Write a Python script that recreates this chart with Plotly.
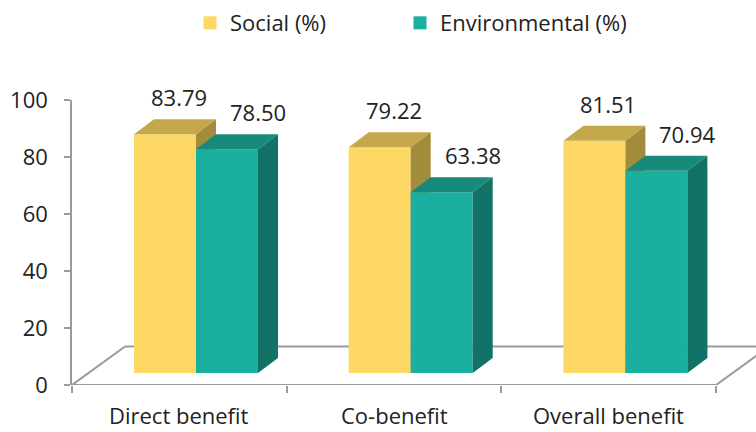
import plotly.graph_objects as go

# Data
categories = ["Direct benefit", "Co-benefit", "Overall benefit"]
series_names = ["Social (%)", "Environmental (%)"]
social = [83.79, 79.22, 81.51]
environmental = [78.50, 63.38, 70.94]
y_ticks = [0, 20, 40, 60, 80, 100]

# Styling for each series: front, top, side faces
face_colors = [
    ("#FDD865", "#C5A74C", "#A38B3C"),
    ("#1AAF9F", "#188A7C", "#137266"),
]
label_xshift = [14, 31]

# Geometry (axis units)
W_PX, H_PX = 756, 432
ML, MT, MB = 72, 100, 47
CAT_PX = 214.7
plot_w = W_PX - ML
plot_h = H_PX - MT - MB
x_max = plot_w / CAT_PX
px_x = 1.0 / CAT_PX          # x units per pixel
px_y = 100.0 / plot_h        # y units per pixel

bar_w = 62 * px_x
bar_start = 62 * px_x        # offset of first bar inside its category
depth_dx, depth_dy = 20 * px_x, 15 * px_y   # bar depth
base = 12 * px_y             # front face of bars sits a little back on the floor
floor_dx, floor_dy = 53 * px_x, 13.5       # floor depth

edge = "#9a9a9a"
text_color = "#222222"
fig = go.Figure()

# Floor outline
n = len(categories)
fig.add_trace(go.Scatter(
    x=[floor_dx, 0, n, n + floor_dx], y=[floor_dy, 0, 0, floor_dy],
    mode="lines", line=dict(color=edge, width=2), hoverinfo="skip", showlegend=False))
fig.add_trace(go.Scatter(
    x=[floor_dx, n + floor_dx + 1], y=[floor_dy, floor_dy],
    mode="lines", line=dict(color=edge, width=2), hoverinfo="skip", showlegend=False))


def poly(xs, ys, color):
    fig.add_trace(go.Scatter(
        x=xs + [xs[0]], y=ys + [ys[0]], mode="lines", fill="toself",
        fillcolor=color, line=dict(width=0, color=color),
        hoverinfo="skip", showlegend=False))


annotations = []
for i, cat in enumerate(categories):
    for s, values in enumerate([social, environmental]):
        v = values[i]
        front, top, side = face_colors[s]
        x0 = i + bar_start + s * bar_w
        x1 = x0 + bar_w
        y0 = base
        y1 = base + v
        # front face
        poly([x0, x1, x1, x0], [y0, y0, y1, y1], front)
        # top face
        poly([x0, x0 + depth_dx, x1 + depth_dx, x1],
             [y1, y1 + depth_dy, y1 + depth_dy, y1], top)
        # side face
        poly([x1, x1 + depth_dx, x1 + depth_dx, x1],
             [y0, y0 + depth_dy, y1 + depth_dy, y1], side)
        annotations.append(dict(
            x=(x0 + x1) / 2, y=y1 + depth_dy, xref="x", yref="y",
            text=f"{v:.2f}", showarrow=False, xanchor="center", yanchor="bottom",
            xshift=label_xshift[s], yshift=5,
            font=dict(size=22, color=text_color)))
    annotations.append(dict(
        x=i + 0.5, y=0, xref="x", yref="y", text=cat, showarrow=False,
        xanchor="center", yanchor="top", yshift=-13,
        font=dict(size=22, color=text_color)))

# Legend entries, one legend box per series
legend_ids = ["legend", "legend2"]
for s, name in enumerate(series_names):
    fig.add_trace(go.Scatter(
        x=[None], y=[None], mode="markers", name=name, legend=legend_ids[s],
        marker=dict(symbol="square", size=13, color=face_colors[s][0])))

legend_style = dict(orientation="h", xanchor="left", yanchor="top",
                    y=1 + (MT - 2) / plot_h,
                    font=dict(size=22, color=text_color), bgcolor="rgba(0,0,0,0)")

fig.update_layout(
    width=W_PX, height=H_PX,
    margin=dict(l=ML, r=0, t=MT, b=MB, pad=0),
    paper_bgcolor="white", plot_bgcolor="white",
    font=dict(family="Open Sans", size=20, color=text_color),
    showlegend=True,
    legend=dict(x=(190 - ML) / plot_w, **legend_style),
    legend2=dict(x=(400 - ML) / plot_w, **legend_style),
    xaxis=dict(range=[0, x_max], showgrid=False, zeroline=False, showline=False,
               tickvals=list(range(n + 1)), ticktext=[""] * (n + 1),
               ticks="outside", ticklen=7, tickwidth=1.5, tickcolor=edge,
               fixedrange=True),
    yaxis=dict(range=[0, 100], showgrid=False, zeroline=False, showline=True,
               linecolor=edge, linewidth=1.5, tickvals=y_ticks,
               ticks="outside", ticklen=6, tickwidth=1.5, tickcolor=edge,
               ticklabelstandoff=12, tickfont=dict(size=22, color=text_color),
               fixedrange=True),
    annotations=annotations,
)

fig.write_html("out.html")
